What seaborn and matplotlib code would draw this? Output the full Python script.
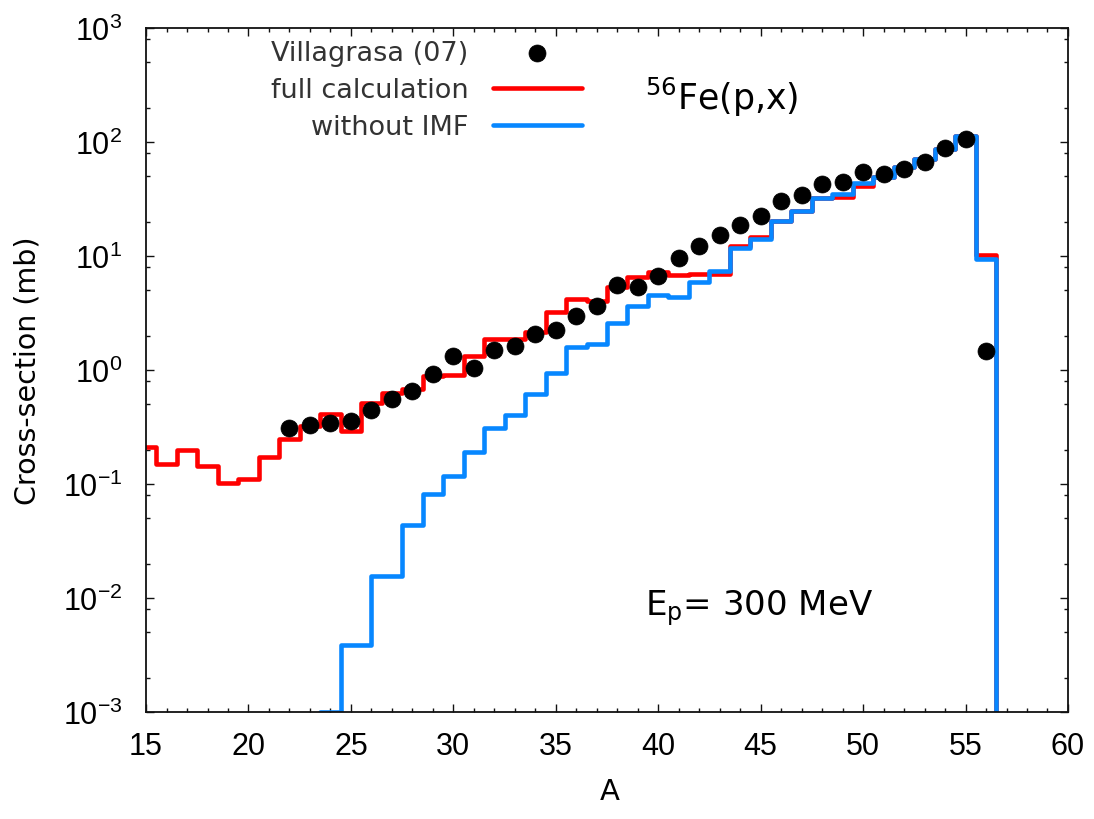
import numpy as np
import pandas as pd
import matplotlib.pyplot as plt
import seaborn as sns
from matplotlib.ticker import LogLocator, MultipleLocator, NullFormatter

# Mass-number distribution of 56Fe(p,x) residues at Ep = 300 MeV
mass_full = list(range(15, 57))
xs_full = [0.21, 0.15, 0.20, 0.143, 0.102, 0.11, 0.174, 0.25, 0.32, 0.41,
           0.29, 0.51, 0.63, 0.68, 0.89, 0.90, 1.33, 1.87, 1.87, 2.14,
           3.2, 4.2, 4.0, 5.4, 6.5, 7.3, 6.8, 6.95, 6.9, 12.2,
           14.6, 20.4, 25.0, 32.0, 32.7, 40.8, 49.0, 60.0, 71.0, 87.0,
           112.0, 10.2]

mass_noimf = [24, 25] + list(range(27, 57))
xs_noimf = [0.001, 0.0039, 0.0155, 0.044, 0.082, 0.118, 0.19, 0.31, 0.40, 0.62,
            0.95, 1.6, 1.7, 2.58, 3.66, 4.55, 4.4, 5.9, 7.4, 11.7,
            14.1, 20.4, 25.0, 32.0, 35.0, 44.0, 49.0, 60.0, 71.0, 87.0,
            112.0, 9.5]

mass_exp = list(range(22, 57))
xs_exp = [0.31, 0.33, 0.34, 0.36, 0.45, 0.56, 0.66, 0.92, 1.32, 1.05,
          1.51, 1.63, 2.07, 2.24, 2.95, 3.66, 5.6, 5.4, 6.65, 9.55,
          12.3, 15.2, 18.9, 22.5, 30.5, 34.3, 42.8, 44.3, 55.0, 52.7,
          58.5, 67.0, 89.0, 106.0, 1.47]

Y_MIN, Y_MAX = 1e-3, 1e3


def histeps(a, v, floor):
    # gnuplot-like histogram steps: edges halfway between points, ends dropped to floor
    a = np.asarray(a, float)
    v = np.asarray(v, float)
    mids = (a[1:] + a[:-1]) / 2
    edges = np.concatenate([[a[0] - 0.5], mids, [a[-1] + 0.5]])
    xs = np.repeat(edges, 2)
    ys = np.concatenate([[floor], np.repeat(v, 2), [floor]])
    return pd.DataFrame({'A': xs, 'sigma': ys})


sns.set_style('ticks')
plt.rcParams['font.family'] = ['Liberation Sans', 'DejaVu Sans']
plt.rcParams['mathtext.fontset'] = 'custom'
plt.rcParams['mathtext.rm'] = 'Liberation Sans'
plt.rcParams['mathtext.it'] = 'Liberation Sans:italic'
plt.rcParams['mathtext.bf'] = 'Liberation Sans:bold'
plt.rcParams['mathtext.default'] = 'regular'
plt.rcParams['text.color'] = 'black'
plt.rcParams['axes.labelcolor'] = 'black'
plt.rcParams['xtick.color'] = 'black'
plt.rcParams['ytick.color'] = 'black'

fig, ax = plt.subplots(figsize=(10.94, 8.2), dpi=100)
fig.subplots_adjust(left=0.1335, right=0.9762, bottom=0.1305, top=0.9646)
ax.set_yscale('log')

sns.lineplot(data=histeps(mass_full, xs_full, Y_MIN), x='A', y='sigma', sort=False,
             estimator=None, color='#ff0000', lw=3.3, label='full calculation', ax=ax)
sns.lineplot(data=histeps(mass_noimf, xs_noimf, Y_MIN), x='A', y='sigma', sort=False,
             estimator=None, color='#0787ff', lw=3.3, label='without IMF', ax=ax)
sns.scatterplot(x=mass_exp, y=xs_exp, color='black', s=150, edgecolor='black',
                linewidth=0.5, zorder=5, label='Villagrasa (07)', ax=ax)

ax.set_xlim(15, 60)
ax.set_ylim(Y_MIN, Y_MAX)

ax.xaxis.set_major_locator(MultipleLocator(5))
ax.xaxis.set_minor_locator(MultipleLocator(1))
ax.yaxis.set_major_locator(LogLocator(base=10, numticks=10))
ax.yaxis.set_minor_locator(LogLocator(base=10, subs=[2, 5, 8], numticks=20))
ax.yaxis.set_minor_formatter(NullFormatter())

ax.tick_params(which='both', direction='in', top=True, right=True, width=1, color='#111111')
ax.tick_params(which='major', length=6)
ax.tick_params(which='minor', length=3)
ax.tick_params(axis='x', labelsize=22, pad=14)
ax.tick_params(axis='y', labelsize=22, pad=17)
for sp in ax.spines.values():
    sp.set_linewidth(1.3)
    sp.set_color('#111111')

ax.set_xlabel('A', fontsize=21, family='DejaVu Sans')
ax.set_ylabel('Cross-section (mb)', fontsize=20.5, family='DejaVu Sans')
ax.xaxis.set_label_coords(0.503, -0.095)
ax.yaxis.set_label_coords(-0.113, 0.5)

# legend: text on the left, sample on the right (gnuplot style)
handles, labels = ax.get_legend_handles_labels()
order = ['Villagrasa (07)', 'full calculation', 'without IMF']
hmap = dict(zip(labels, handles))
ax.legend([hmap[k] for k in order], order, loc='upper right', bbox_to_anchor=(0.473, 0.983),
          frameon=False, markerfirst=False, handlelength=3.3, handletextpad=0.9,
          labelspacing=0.42, borderpad=0, borderaxespad=0,
          prop={'family': 'DejaVu Sans', 'size': 19.5}, labelcolor='#333333')

ax.text(0.541, 0.8816, r'$^{56}$Fe(p,x)', transform=ax.transAxes, fontsize=25,
        family='DejaVu Sans', va='baseline')
ax.text(0.541, 0.143, r'E$_{p}$= 300 MeV', transform=ax.transAxes, fontsize=24.5,
        family='DejaVu Sans', va='baseline')

plt.savefig('out.png', dpi=100)
